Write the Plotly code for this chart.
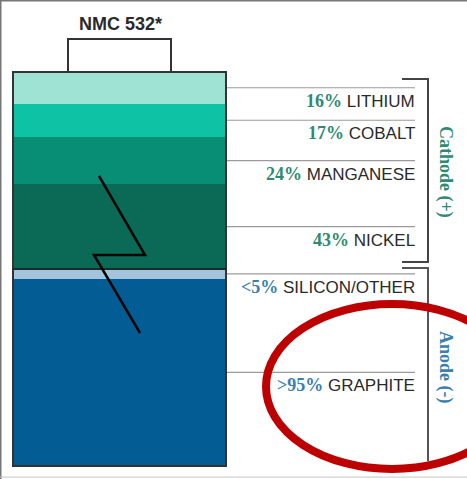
import plotly.graph_objects as go

# ---- data ----
title = "NMC 532*"
cathode_names = ["LITHIUM", "COBALT", "MANGANESE", "NICKEL"]
cathode_values = [16, 17, 24, 43]
cathode_labels = ["16%", "17%", "24%", "43%"]
cathode_colors = ["#9ee3d3", "#0dc2a5", "#088e75", "#0a6a56"]
anode_names = ["SILICON/OTHER", "GRAPHITE"]
anode_values = [5, 95]
anode_labels = ["&lt;5%", "&gt;95%"]
anode_colors = ["#a4c3dd", "#045c94"]

W, H = 467, 479
TOP, BOTTOM = 72, 466
UNIT = (BOTTOM - TOP) / 200
DARK = "#333333"
RULE = "#9a9a9a"
TEAL = "#2f8a72"
BLUE = "#3a7fae"
PCT_FONT = "Liberation Serif"
SANS = "Liberation Sans"

fig = go.Figure()
names = cathode_names + anode_names
values = cathode_values + anode_values
labels = cathode_labels + anode_labels
colors = cathode_colors + anode_colors
groups = [TEAL] * len(cathode_names) + [BLUE] * len(anode_names)

for n, v, c in zip(names, values, colors):
    fig.add_trace(go.Bar(x=[119.5], y=[v], width=[213], name=n,
                         marker=dict(color=c, line=dict(width=0)),
                         hoverinfo="name", showlegend=False))

shapes, annotations = [], []
line = lambda x0, y0, x1, y1, color=DARK, w=2, yref="y": dict(
    type="line", x0=x0, y0=y0, x1=x1, y1=y1, xref="x", yref=yref,
    line=dict(color=color, width=w))

# leader lines and labels at segment midpoints
cum = 0
for n, v, pct, col in zip(names, values, labels, groups):
    mid = cum + v / 2
    cum += v
    shapes.append(line(226, mid, 415, mid, RULE, 1.2))
    annotations.append(dict(
        x=416.5, y=mid, xref="x", yref="y", xanchor="right", yanchor="middle",
        yshift=-13, showarrow=False, align="right",
        text=f"<span style='font-family:{PCT_FONT};font-weight:bold;color:{col};font-size:18px'>{pct}</span> {n}",
        font=dict(family=SANS, size=17, color="#2a2a2a")))

py = lambda p: (p - TOP) / UNIT  # pixel rows of decoration to axis units

# battery outline, separator, terminal
shapes.append(dict(type="rect", x0=13, x1=226, y0=0, y1=200, xref="x", yref="y",
                   line=dict(color=DARK, width=2), fillcolor="rgba(0,0,0,0)"))
shapes.append(line(13, sum(cathode_values), 226, sum(cathode_values), "#1c2a2a", 2))
shapes.append(dict(type="path", xref="x", yref="y",
                   path=f"M68,{py(72)} L68,{py(39)} L171,{py(39)} L171,{py(72)}",
                   line=dict(color=DARK, width=2)))
# lightning
shapes.append(dict(type="path", xref="x", yref="y",
                   path=f"M99,{py(176)} L145,{py(255)} L94,{py(255)} L140,{py(333)}",
                   line=dict(color="#050505", width=2.5)))
# brackets
shapes.append(dict(type="path", xref="x", yref="y",
                   path=f"M402,{py(79)} L428,{py(79)} L428,{py(262)} L402,{py(262)}",
                   line=dict(color="#444444", width=2)))
shapes.append(dict(type="path", xref="x", yref="y",
                   path=f"M402,{py(268)} L428,{py(268)} L428,{py(461)}",
                   line=dict(color="#555555", width=2)))
# red ellipse
shapes.append(dict(type="circle", xref="x", yref="y", x0=266, x1=518, y0=py(304), y1=py(469),
                   line=dict(color="#bd0000", width=8), fillcolor="rgba(0,0,0,0)"))
# frame
shapes.append(dict(type="line", xref="paper", yref="paper", x0=0, x1=1, y0=1, y1=1,
                   line=dict(color="#777777", width=3)))
shapes.append(dict(type="line", xref="paper", yref="paper", x0=0, x1=0, y0=0, y1=1,
                   line=dict(color="#777777", width=3)))
shapes.append(dict(type="line", xref="paper", yref="paper", x0=0, x1=1, y0=0.004, y1=0.004,
                   line=dict(color="#c4c4c4", width=1)))

annotations.append(dict(x=120, y=py(24), xref="x", yref="y", text=f"<b>{title}</b>", showarrow=False,
                        font=dict(family=SANS, size=18, color="#2a2a2a")))
annotations.append(dict(x=446, y=py(172), xref="x", yref="y", text="<b>Cathode (+)</b>", textangle=90,
                        showarrow=False, font=dict(family=PCT_FONT, size=18, color=TEAL)))
annotations.append(dict(x=446, y=py(367), xref="x", yref="y", text="<b>Anode (-)</b>", textangle=90,
                        showarrow=False, font=dict(family=PCT_FONT, size=18, color=BLUE)))

fig.update_layout(
    width=W, height=H, margin=dict(l=0, r=0, t=0, b=0), barmode="stack", bargap=0,
    paper_bgcolor="white", plot_bgcolor="white", showlegend=False,
    xaxis=dict(range=[0, W], visible=False, fixedrange=True),
    yaxis=dict(range=[(H - TOP) / UNIT, -TOP / UNIT], visible=False, fixedrange=True),
    shapes=shapes, annotations=annotations,
)
fig.write_html("out.html", config=dict(displayModeBar=False),
               post_script="document.body.style.margin='0';document.body.style.overflow='hidden';")
